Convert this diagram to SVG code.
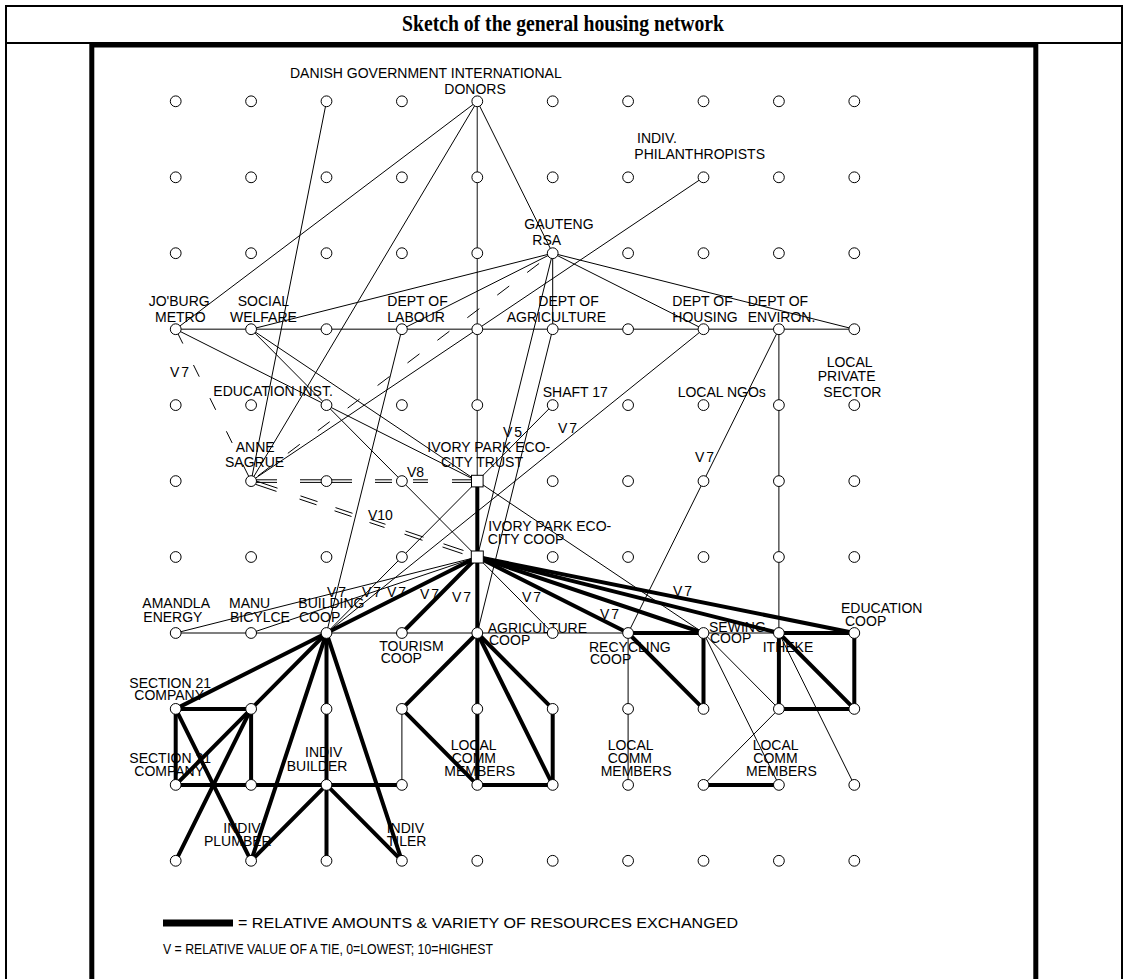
<svg xmlns="http://www.w3.org/2000/svg" width="1128" height="979" viewBox="0 0 1128 979">
<style>
.t{stroke:#000;stroke-width:1;fill:none}
.g{stroke:#555;stroke-width:1.4;fill:none}
.k{stroke:#000;stroke-width:4;stroke-linecap:round;fill:none}
.d{stroke:#000;stroke-width:1;fill:none}
text{font-family:"Liberation Sans",Arial,sans-serif;font-size:14px;fill:#000}
circle{fill:#fff;stroke:#000;stroke-width:1}
.sq{fill:#fff;stroke:#000;stroke-width:1}
.title{font-family:"Liberation Serif","Times New Roman",serif;font-weight:bold;font-size:24px}
</style>
<rect x="0" y="0" width="1128" height="979" fill="#fff"/>
<g id="frame" fill="none" stroke="#000">
<rect x="6" y="6" width="1116" height="990" stroke-width="2"/>
<line x1="6" y1="43" x2="1122" y2="43" stroke-width="2"/>
<rect x="91.8" y="45" width="944" height="950" stroke-width="5"/>
</g>
<text class="title" x="402" y="31" textLength="322" lengthAdjust="spacingAndGlyphs">Sketch of the general housing network</text>

<g id="connectors">
<!-- grey grid lines -->
<line class="g" x1="175.7" y1="329.2" x2="854.3" y2="329.2"/>
<line class="g" x1="175.7" y1="633" x2="628.1" y2="633"/>
<line class="g" x1="703.5" y1="633" x2="778.9" y2="633"/>
<line class="g" x1="477.3" y1="101.3" x2="477.3" y2="481.1"/>
<!-- thin lines -->
<line class="t" x1="477.3" y1="101.3" x2="175.7" y2="329.2"/>
<line class="t" x1="477.3" y1="101.3" x2="251.1" y2="481.1"/>
<line class="t" x1="477.3" y1="101.3" x2="552.7" y2="253.2"/>
<line class="t" x1="326.5" y1="101.3" x2="251.1" y2="481.1"/>
<line class="t" x1="703.5" y1="177.3" x2="251.1" y2="481.1"/>
<line class="t" x1="552.7" y1="253.2" x2="251.1" y2="329.2"/>
<line class="t" x1="552.7" y1="253.2" x2="401.9" y2="329.2"/>
<line class="t" x1="552.7" y1="253.2" x2="552.7" y2="329.2"/>
<line class="t" x1="552.7" y1="253.2" x2="703.5" y2="329.2"/>
<line class="t" x1="552.7" y1="253.2" x2="854.3" y2="329.2"/>
<line class="t" x1="552.7" y1="253.2" x2="477.3" y2="557"/>
<line class="t" x1="175.7" y1="329.2" x2="477.3" y2="481.1"/>
<line class="t" x1="251.1" y1="329.2" x2="477.3" y2="481.1"/>
<line class="t" x1="251.1" y1="329.2" x2="477.3" y2="557"/>
<line class="t" x1="401.9" y1="329.2" x2="326.5" y2="633"/>
<line class="t" x1="552.7" y1="329.2" x2="477.3" y2="633"/>
<line class="t" x1="703.5" y1="329.2" x2="326.5" y2="633"/>
<line class="t" x1="778.9" y1="329.2" x2="628.1" y2="633"/>
<line class="t" x1="552.7" y1="405.1" x2="326.5" y2="633"/>
<line class="t" x1="477.3" y1="481.1" x2="703.5" y2="633"/>
<line class="t" x1="477.3" y1="557" x2="175.7" y2="633"/>
<line class="t" x1="477.3" y1="557" x2="251.1" y2="633"/>
<line class="t" x1="477.3" y1="557" x2="552.7" y2="633"/>
<line class="t" x1="703.5" y1="633" x2="778.9" y2="708.9"/>
<line class="t" x1="703.5" y1="633" x2="778.9" y2="784.9"/>
<line class="t" x1="778.9" y1="633" x2="854.3" y2="784.9"/>
<line class="t" x1="778.9" y1="708.9" x2="703.5" y2="784.9"/>
<line class="t" x1="628.1" y1="633" x2="628.1" y2="784.9"/>
<line class="t" x1="401.9" y1="708.9" x2="401.9" y2="784.9"/>
<line class="t" x1="778.9" y1="329.2" x2="778.9" y2="633"/>
<!-- dashed lines -->
<line class="d" x1="552.7" y1="253.2" x2="251.1" y2="481.1" stroke-dasharray="15 22.5" stroke-dashoffset="20.5"/>
<line class="d" x1="175.7" y1="329.2" x2="251.1" y2="481.1" stroke-dasharray="13 24" stroke-dashoffset="34"/>
<path class="d" d="M256 479.8H277M300 479.8H352M375 479.8H392M413 479.8H428M452 479.8H472M256 482.4H277M300 482.4H352M375 482.4H392M413 482.4H428M452 482.4H472"/>
<path class="d" d="M255.5 484.3L276.5 491.4M299.5 499.1L316.5 504.8M334.5 510.8L351.5 516.5M369.5 522.5L384.5 527.5M404.5 534.2L422.5 540.3M442.5 547L462.5 553.7M256.5 481.1L277.5 488.2M300.5 495.9L317.5 501.6M335.5 507.6L352.5 513.3M370.5 519.3L385.5 524.3M405.5 531L423.5 537.1M443.5 543.8L463.5 550.5"/>
<!-- thick lines -->
<line class="k" x1="477.3" y1="481.1" x2="477.3" y2="557" stroke-width="5"/>
<line class="k" x1="477.3" y1="557" x2="477.3" y2="784.9"/>
<line class="k" x1="477.3" y1="557" x2="326.5" y2="633"/>
<line class="k" x1="477.3" y1="557" x2="401.9" y2="633" stroke-width="3.5"/>
<line class="k" x1="477.3" y1="557" x2="628.1" y2="633"/>
<line class="k" x1="477.3" y1="557" x2="703.5" y2="633"/>
<line class="k" x1="477.3" y1="557" x2="778.9" y2="633"/>
<line class="k" x1="477.3" y1="557" x2="854.3" y2="633" stroke-width="4.5"/>
<line class="k" x1="628.1" y1="633" x2="703.5" y2="633"/>
<line class="k" x1="628.1" y1="633" x2="703.5" y2="708.9"/>
<line class="k" x1="703.5" y1="633" x2="703.5" y2="708.9"/>
<line class="k" x1="778.9" y1="633" x2="854.3" y2="633"/>
<line class="k" x1="778.9" y1="633" x2="778.9" y2="708.9"/>
<line class="k" x1="778.9" y1="633" x2="854.3" y2="708.9"/>
<line class="k" x1="854.3" y1="633" x2="854.3" y2="708.9"/>
<line class="k" x1="778.9" y1="708.9" x2="854.3" y2="708.9"/>
<line class="k" x1="703.5" y1="784.9" x2="778.9" y2="784.9"/>
<line class="k" x1="477.3" y1="633" x2="401.9" y2="708.9"/>
<line class="k" x1="477.3" y1="633" x2="552.7" y2="708.9"/>
<line class="k" x1="477.3" y1="633" x2="552.7" y2="784.9"/>
<line class="k" x1="401.9" y1="708.9" x2="477.3" y2="784.9"/>
<line class="k" x1="552.7" y1="708.9" x2="552.7" y2="784.9"/>
<line class="k" x1="477.3" y1="784.9" x2="552.7" y2="784.9"/>
<line class="k" x1="326.5" y1="633" x2="175.7" y2="708.9"/>
<line class="k" x1="326.5" y1="633" x2="175.7" y2="784.9"/>
<line class="k" x1="326.5" y1="633" x2="326.5" y2="860.8"/>
<line class="k" x1="326.5" y1="633" x2="251.1" y2="860.8"/>
<line class="k" x1="326.5" y1="633" x2="401.9" y2="860.8"/>
<line class="k" x1="175.7" y1="708.9" x2="251.1" y2="708.9"/>
<line class="k" x1="251.1" y1="708.9" x2="251.1" y2="784.9"/>
<line class="k" x1="175.7" y1="708.9" x2="175.7" y2="784.9"/>
<line class="k" x1="175.7" y1="784.9" x2="401.9" y2="784.9"/>
<line class="k" x1="175.7" y1="708.9" x2="251.1" y2="860.8"/>
<line class="k" x1="251.1" y1="708.9" x2="175.7" y2="860.8"/>
<line class="k" x1="326.5" y1="784.9" x2="251.1" y2="860.8"/>
<line class="k" x1="326.5" y1="784.9" x2="401.9" y2="860.8"/>
</g>

<g id="tie-values">
<text x="170" y="377" letter-spacing="2">V7</text>
<text x="503" y="437" letter-spacing="2">V5</text>
<text x="558" y="433" letter-spacing="2">V7</text>
<text x="695" y="462" letter-spacing="2">V7</text>
<text x="407" y="477">V8</text>
<text x="368" y="520">V10</text>
<text x="327" y="597" letter-spacing="2">V7</text>
<text x="362" y="597" letter-spacing="2">V7</text>
<text x="387" y="597" letter-spacing="2">V7</text>
<text x="420" y="599" letter-spacing="2">V7</text>
<text x="452" y="602" letter-spacing="2">V7</text>
<text x="522" y="602" letter-spacing="2">V7</text>
<text x="600" y="619" letter-spacing="2">V7</text>
<text x="673" y="596" letter-spacing="2">V7</text>
</g>

<g id="nodes">
<!-- row 0 -->
<g id="n-0-0"><circle cx="175.7" cy="101.3" r="5.4"/></g>
<g id="n-1-0"><circle cx="251.1" cy="101.3" r="5.4"/></g>
<g id="danish-government"><circle cx="326.5" cy="101.3" r="5.4"/><text x="290" y="78">DANISH GOVERNMENT INTERNATIONAL</text></g>
<g id="n-3-0"><circle cx="401.9" cy="101.3" r="5.4"/></g>
<g id="international-donors"><circle cx="477.3" cy="101.3" r="5.4"/><text x="444.3" y="94.3">DONORS</text></g>
<g id="n-5-0"><circle cx="552.7" cy="101.3" r="5.4"/></g>
<g id="n-6-0"><circle cx="628.1" cy="101.3" r="5.4"/></g>
<g id="n-7-0"><circle cx="703.5" cy="101.3" r="5.4"/></g>
<g id="n-8-0"><circle cx="778.9" cy="101.3" r="5.4"/></g>
<g id="n-9-0"><circle cx="854.3" cy="101.3" r="5.4"/></g>
<!-- row 1 -->
<g id="n-0-1"><circle cx="175.7" cy="177.3" r="5.4"/></g>
<g id="n-1-1"><circle cx="251.1" cy="177.3" r="5.4"/></g>
<g id="n-2-1"><circle cx="326.5" cy="177.3" r="5.4"/></g>
<g id="n-3-1"><circle cx="401.9" cy="177.3" r="5.4"/></g>
<g id="n-4-1"><circle cx="477.3" cy="177.3" r="5.4"/></g>
<g id="n-5-1"><circle cx="552.7" cy="177.3" r="5.4"/></g>
<g id="n-6-1"><circle cx="628.1" cy="177.3" r="5.4"/></g>
<g id="philanthropists"><circle cx="703.5" cy="177.3" r="5.4"/><text x="637" y="143.3">INDIV.</text><text x="634.3" y="159">PHILANTHROPISTS</text></g>
<g id="n-8-1"><circle cx="778.9" cy="177.3" r="5.4"/></g>
<g id="n-9-1"><circle cx="854.3" cy="177.3" r="5.4"/></g>
<!-- row 2 -->
<g id="n-0-2"><circle cx="175.7" cy="253.2" r="5.4"/></g>
<g id="n-1-2"><circle cx="251.1" cy="253.2" r="5.4"/></g>
<g id="n-2-2"><circle cx="326.5" cy="253.2" r="5.4"/></g>
<g id="n-3-2"><circle cx="401.9" cy="253.2" r="5.4"/></g>
<g id="n-4-2"><circle cx="477.3" cy="253.2" r="5.4"/></g>
<g id="gauteng"><circle cx="552.7" cy="253.2" r="5.4"/><text x="524.3" y="229.3">GAUTENG</text><text x="532.3" y="245">RSA</text></g>
<g id="n-6-2"><circle cx="628.1" cy="253.2" r="5.4"/></g>
<g id="n-7-2"><circle cx="703.5" cy="253.2" r="5.4"/></g>
<g id="n-8-2"><circle cx="778.9" cy="253.2" r="5.4"/></g>
<g id="n-9-2"><circle cx="854.3" cy="253.2" r="5.4"/></g>
<!-- row 3 -->
<g id="joburg-metro"><circle cx="175.7" cy="329.2" r="5.4"/><text x="148.7" y="306">JO'BURG</text><text x="155" y="321.7">METRO</text></g>
<g id="social-welfare"><circle cx="251.1" cy="329.2" r="5.4"/><text x="237.7" y="306">SOCIAL</text><text x="230" y="321.7">WELFARE</text></g>
<g id="n-2-3"><circle cx="326.5" cy="329.2" r="5.4"/></g>
<g id="dept-labour"><circle cx="401.9" cy="329.2" r="5.4"/><text x="387.3" y="306">DEPT OF</text><text x="387.3" y="321.7">LABOUR</text></g>
<g id="n-4-3"><circle cx="477.3" cy="329.2" r="5.4"/></g>
<g id="dept-agriculture"><circle cx="552.7" cy="329.2" r="5.4"/><text x="538.3" y="306">DEPT OF</text><text x="506.7" y="321.7">AGRICULTURE</text></g>
<g id="n-6-3"><circle cx="628.1" cy="329.2" r="5.4"/></g>
<g id="dept-housing"><circle cx="703.5" cy="329.2" r="5.4"/><text x="672.3" y="306">DEPT OF</text><text x="672.3" y="321.7">HOUSING</text></g>
<g id="dept-environ"><circle cx="778.9" cy="329.2" r="5.4"/><text x="747.7" y="306">DEPT OF</text><text x="747.7" y="321.7">ENVIRON.</text></g>
<g id="n-9-3"><circle cx="854.3" cy="329.2" r="5.4"/></g>
<!-- row 4 -->
<g id="n-0-4"><circle cx="175.7" cy="405.1" r="5.4"/></g>
<g id="n-1-4"><circle cx="251.1" cy="405.1" r="5.4"/></g>
<g id="education-inst"><circle cx="326.5" cy="405.1" r="5.4"/><text x="213.3" y="396">EDUCATION INST.</text></g>
<g id="n-3-4"><circle cx="401.9" cy="405.1" r="5.4"/></g>
<g id="n-4-4"><circle cx="477.3" cy="405.1" r="5.4"/></g>
<g id="shaft-17"><circle cx="552.7" cy="405.1" r="5.4"/><text x="542.7" y="396.7">SHAFT 17</text></g>
<g id="n-6-4"><circle cx="628.1" cy="405.1" r="5.4"/></g>
<g id="local-ngos"><circle cx="703.5" cy="405.1" r="5.4"/><text x="677.7" y="396.7">LOCAL NGOs</text></g>
<g id="n-8-4"><circle cx="778.9" cy="405.1" r="5.4"/></g>
<g id="local-private-sector"><circle cx="854.3" cy="405.1" r="5.4"/><text x="826.7" y="366.7">LOCAL</text><text x="817.7" y="381">PRIVATE</text><text x="823.3" y="396.7">SECTOR</text></g>
<!-- row 5 -->
<g id="n-0-5"><circle cx="175.7" cy="481.1" r="5.4"/></g>
<g id="anne-sagrue"><circle cx="251.1" cy="481.1" r="5.4"/><text x="235.7" y="451.7">ANNE</text><text x="225" y="466.7">SAGRUE</text></g>
<g id="n-2-5"><circle cx="326.5" cy="481.1" r="5.4"/></g>
<g id="n-3-5"><circle cx="401.9" cy="481.1" r="5.4"/></g>
<g id="ivory-park-trust"><rect class="sq" x="471.5" y="475.3" width="11.6" height="11.6"/><text x="427.3" y="451.7">IVORY PARK ECO-</text><text x="441" y="466.7">CITY TRUST</text></g>
<g id="n-5-5"><circle cx="552.7" cy="481.1" r="5.4"/></g>
<g id="n-6-5"><circle cx="628.1" cy="481.1" r="5.4"/></g>
<g id="n-7-5"><circle cx="703.5" cy="481.1" r="5.4"/></g>
<g id="n-8-5"><circle cx="778.9" cy="481.1" r="5.4"/></g>
<g id="n-9-5"><circle cx="854.3" cy="481.1" r="5.4"/></g>
<!-- row 6 -->
<g id="n-0-6"><circle cx="175.7" cy="557" r="5.4"/></g>
<g id="n-1-6"><circle cx="251.1" cy="557" r="5.4"/></g>
<g id="n-2-6"><circle cx="326.5" cy="557" r="5.4"/></g>
<g id="n-3-6"><circle cx="401.9" cy="557" r="5.4"/></g>
<g id="ivory-park-coop"><rect class="sq" x="471.3" y="551" width="12" height="12"/><text x="488.3" y="530.7">IVORY PARK ECO-</text><text x="487.7" y="544.3">CITY COOP</text></g>
<g id="n-5-6"><circle cx="552.7" cy="557" r="5.4"/></g>
<g id="n-6-6"><circle cx="628.1" cy="557" r="5.4"/></g>
<g id="n-7-6"><circle cx="703.5" cy="557" r="5.4"/></g>
<g id="n-8-6"><circle cx="778.9" cy="557" r="5.4"/></g>
<g id="n-9-6"><circle cx="854.3" cy="557" r="5.4"/></g>
<!-- row 7 -->
<g id="amandla-energy"><circle cx="175.7" cy="633" r="5.4"/><text x="142.3" y="608.3">AMANDLA</text><text x="143.3" y="622.3">ENERGY</text></g>
<g id="manu-bicycle"><circle cx="251.1" cy="633" r="5.4"/><text x="229" y="608.3">MANU</text><text x="230" y="622.3">BICYLCE</text></g>
<g id="building-coop"><circle cx="326.5" cy="633" r="5.4"/><text x="298.3" y="608.3">BUILDING</text><text x="299" y="622.3">COOP</text></g>
<g id="tourism-coop"><circle cx="401.9" cy="633" r="5.4"/><text x="379.3" y="650.7">TOURISM</text><text x="380.7" y="663.3">COOP</text></g>
<g id="agriculture-coop"><circle cx="477.3" cy="633" r="5.4"/><text x="487.7" y="632.7">AGRICULTURE</text><text x="489" y="645">COOP</text></g>
<g id="n-5-7"><circle cx="552.7" cy="633" r="5.4"/></g>
<g id="recycling-coop"><circle cx="628.1" cy="633" r="5.4"/><text x="589" y="651.7">RECYCLING</text><text x="590" y="664.3">COOP</text></g>
<g id="sewing-coop"><circle cx="703.5" cy="633" r="5.4"/><text x="709" y="631.7">SEWING</text><text x="710" y="643.3">COOP</text></g>
<g id="itheke"><circle cx="778.9" cy="633" r="5.4"/><text x="762.7" y="651.7">ITHEKE</text></g>
<g id="education-coop"><circle cx="854.3" cy="633" r="5.4"/><text x="841" y="613.3">EDUCATION</text><text x="845" y="626">COOP</text></g>
<!-- row 8 -->
<g id="section21-company-a"><circle cx="175.7" cy="708.9" r="5.4"/><text x="129.3" y="687.7">SECTION 21</text><text x="134.3" y="700">COMPANY</text></g>
<g id="n-1-8"><circle cx="251.1" cy="708.9" r="5.4"/></g>
<g id="n-2-8"><circle cx="326.5" cy="708.9" r="5.4"/></g>
<g id="n-3-8"><circle cx="401.9" cy="708.9" r="5.4"/></g>
<g id="n-4-8"><circle cx="477.3" cy="708.9" r="5.4"/></g>
<g id="n-5-8"><circle cx="552.7" cy="708.9" r="5.4"/></g>
<g id="n-6-8"><circle cx="628.1" cy="708.9" r="5.4"/></g>
<g id="n-7-8"><circle cx="703.5" cy="708.9" r="5.4"/></g>
<g id="n-8-8"><circle cx="778.9" cy="708.9" r="5.4"/></g>
<g id="n-9-8"><circle cx="854.3" cy="708.9" r="5.4"/></g>
<!-- row 9 -->
<g id="section21-company-b"><circle cx="175.7" cy="784.9" r="5.4"/><text x="129.3" y="763.3">SECTION 21</text><text x="134.3" y="775.7">COMPANY</text></g>
<g id="n-1-9"><circle cx="251.1" cy="784.9" r="5.4"/></g>
<g id="indiv-builder"><circle cx="326.5" cy="784.9" r="5.4"/><text x="305" y="757.3">INDIV</text><text x="286.7" y="771">BUILDER</text></g>
<g id="n-3-9"><circle cx="401.9" cy="784.9" r="5.4"/></g>
<g id="local-comm-members-a"><circle cx="477.3" cy="784.9" r="5.4"/><text x="450.7" y="750">LOCAL</text><text x="451.7" y="763.3">COMM</text><text x="444.3" y="776">MEMBERS</text></g>
<g id="n-5-9"><circle cx="552.7" cy="784.9" r="5.4"/></g>
<g id="local-comm-members-b"><circle cx="628.1" cy="784.9" r="5.4"/><text x="607.7" y="750">LOCAL</text><text x="607.7" y="763.3">COMM</text><text x="600.7" y="776">MEMBERS</text></g>
<g id="n-7-9"><circle cx="703.5" cy="784.9" r="5.4"/></g>
<g id="local-comm-members-c"><circle cx="778.9" cy="784.9" r="5.4"/><text x="752.7" y="750">LOCAL</text><text x="753.3" y="763.3">COMM</text><text x="746" y="776">MEMBERS</text></g>
<g id="n-9-9"><circle cx="854.3" cy="784.9" r="5.4"/></g>
<!-- row 10 -->
<g id="n-0-10"><circle cx="175.7" cy="860.8" r="5.4"/></g>
<g id="indiv-plumber"><circle cx="251.1" cy="860.8" r="5.4"/><text x="223.3" y="832.7">INDIV</text><text x="204" y="846">PLUMBER</text></g>
<g id="n-2-10"><circle cx="326.5" cy="860.8" r="5.4"/></g>
<g id="indiv-tiler"><circle cx="401.9" cy="860.8" r="5.4"/><text x="386.7" y="832.7">INDIV</text><text x="386.7" y="846">TILER</text></g>
<g id="n-4-10"><circle cx="477.3" cy="860.8" r="5.4"/></g>
<g id="n-5-10"><circle cx="552.7" cy="860.8" r="5.4"/></g>
<g id="n-6-10"><circle cx="628.1" cy="860.8" r="5.4"/></g>
<g id="n-7-10"><circle cx="703.5" cy="860.8" r="5.4"/></g>
<g id="n-8-10"><circle cx="778.9" cy="860.8" r="5.4"/></g>
<g id="n-9-10"><circle cx="854.3" cy="860.8" r="5.4"/></g>
</g>

<g id="legend">
<rect x="163" y="919.5" width="70" height="7" fill="#000"/>
<text x="238" y="928" font-size="14.5" textLength="500" lengthAdjust="spacingAndGlyphs">= RELATIVE AMOUNTS &amp; VARIETY OF RESOURCES EXCHANGED</text>
<text x="163" y="954" font-size="13" textLength="330" lengthAdjust="spacingAndGlyphs">V = RELATIVE VALUE OF A TIE, 0=LOWEST; 10=HIGHEST</text>
</g>
</svg>
